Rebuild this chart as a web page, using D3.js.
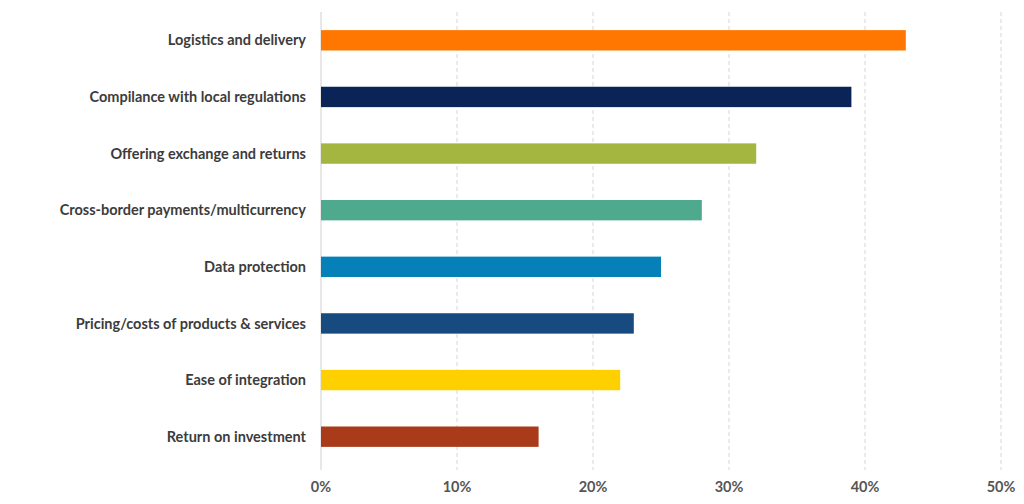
<!DOCTYPE html>
<html>
<head>
<meta charset="utf-8">
<script src="https://cdn.jsdelivr.net/npm/d3@7"></script>
<style>
  body { margin: 0; background: #fff; }
  text { font-family: Lato, "Open Sans", sans-serif; }
</style>
</head>
<body>
<svg id="chart" width="1024" height="504"></svg>
<script>
// chart values
var categories = [
  "Logistics and delivery",
  "Compilance with local regulations",
  "Offering exchange and returns",
  "Cross-border payments/multicurrency",
  "Data protection",
  "Pricing/costs of products & services",
  "Ease of integration",
  "Return on investment"
];
var values = [43, 39, 32, 28, 25, 23, 22, 16];
var colors = ["#ff7700", "#0a2458", "#a4b63f", "#4fa98d", "#0580b8", "#174a7e", "#ffd000", "#a93a1a"];
var ticks = [0, 10, 20, 30, 40, 50];

var svg = d3.select("#chart");

var x = d3.scaleLinear().domain([0, 50]).range([321, 1001]);
var y = d3.scaleBand().domain(categories).range([12, 465])
    .paddingInner(0.64).paddingOuter(0.32);

// grid lines
svg.selectAll("line.grid")
    .data(ticks)
    .enter().append("line")
    .attr("class", "grid")
    .attr("x1", function(d) { return x(d); })
    .attr("x2", function(d) { return x(d); })
    .attr("y1", 12)
    .attr("y2", 470)
    .attr("stroke", function(d) { return d == 0 ? "#d0d0d0" : "#d6d6d6"; })
    .attr("stroke-width", 1)
    .attr("stroke-dasharray", function(d) { return d == 0 ? null : "4,3"; });

// bars
svg.selectAll("rect.bar")
    .data(values)
    .enter().append("rect")
    .attr("class", "bar")
    .attr("x", x(0))
    .attr("y", function(d, i) { return y(categories[i]); })
    .attr("width", function(d) { return x(d) - x(0); })
    .attr("height", y.bandwidth())
    .attr("fill", function(d, i) { return colors[i]; });

// category labels
svg.selectAll("text.cat")
    .data(categories)
    .enter().append("text")
    .attr("class", "cat")
    .attr("x", 306)
    .attr("y", function(d) { return y(d) + y.bandwidth() / 2; })
    .attr("dy", "0.35em")
    .attr("text-anchor", "end")
    .attr("font-size", 14.5)
    .attr("font-weight", "bold")
    .attr("fill", "#3c3c3c")
    .text(function(d) { return d; });

// x tick labels
svg.selectAll("text.tick")
    .data(ticks)
    .enter().append("text")
    .attr("class", "tick")
    .attr("x", function(d) { return x(d); })
    .attr("y", 492)
    .attr("text-anchor", "middle")
    .attr("font-size", 14.5)
    .attr("font-weight", "bold")
    .attr("fill", "#555")
    .text(function(d) { return d + "%"; });
</script>
</body>
</html>
